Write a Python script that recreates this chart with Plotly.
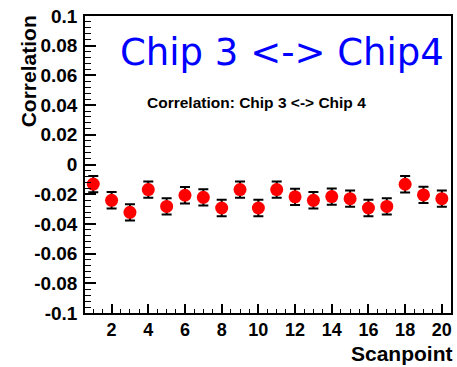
import plotly.graph_objects as go

# Correlation between chip 3 and chip 4 at each scan point
scanpoints = list(range(1, 21))
correlation = [-0.0132, -0.0241, -0.0322, -0.0169, -0.0282, -0.0207, -0.0221, -0.0293,
               -0.0169, -0.0293, -0.0169, -0.0218, -0.0241, -0.0216, -0.0230, -0.0293,
               -0.0282, -0.0133, -0.0205, -0.0230]
errors = [0.0055] * 20

x_ticks = list(range(2, 21, 2))
y_ticks = [0.1, 0.08, 0.06, 0.04, 0.02, 0, -0.02, -0.04, -0.06, -0.08, -0.1]
y_tick_labels = ["0.1", "0.08", "0.06", "0.04", "0.02", "0",
                 "-0.02", "-0.04", "-0.06", "-0.08", "-0.1"]

y_tick_font = dict(family="Liberation Sans", size=19, color="black", weight="bold")
x_tick_font = dict(family="Liberation Sans", size=18, color="black", weight="bold")

fig = go.Figure()
fig.add_trace(go.Scatter(
    x=scanpoints, y=correlation, mode="markers",
    marker=dict(color="#ff0000", size=13, line=dict(width=0)),
    error_y=dict(type="data", array=errors, color="black", thickness=2, width=5),
    showlegend=False,
))

fig.update_layout(
    width=457, height=367,
    margin=dict(l=85, r=4, t=16, b=54),
    paper_bgcolor="white", plot_bgcolor="white",
    xaxis=dict(
        range=[0.55, 20.5], tickvals=x_ticks, ticks="inside", ticklen=9,
        tickwidth=1.5, tickcolor="black", showgrid=False, zeroline=False,
        showline=True, linecolor="black", linewidth=1.5, mirror=True,
        tickfont=x_tick_font,
        minor=dict(dtick=0.5, tick0=0, ticks="inside", ticklen=4, tickwidth=1.2,
                   tickcolor="black", showgrid=False),
    ),
    yaxis=dict(
        range=[-0.1, 0.1], tickvals=y_ticks, ticktext=y_tick_labels,
        ticks="inside", ticklen=11, tickwidth=1.5, tickcolor="black",
        showgrid=False, zeroline=False, showline=True, linecolor="black",
        linewidth=1.5, mirror=True, tickfont=y_tick_font, ticklabelstandoff=2,
        minor=dict(dtick=0.004, tick0=0, ticks="inside", ticklen=6, tickwidth=1.2,
                   tickcolor="black", showgrid=False),
    ),
    annotations=[
        dict(text="Chip 3 <-> Chip4", xref="paper", yref="paper",
             x=0.985, y=0.876, xanchor="right", yanchor="middle", showarrow=False,
             font=dict(family="DejaVu Sans", size=37, color="#0000ff")),
        dict(text="Correlation: Chip 3 <-> Chip 4", xref="paper", yref="paper",
             x=0.468, y=0.71, xanchor="center", yanchor="middle", showarrow=False,
             font=dict(family="Liberation Sans", size=15.5, color="black", weight="bold")),
        dict(text="Correlation", xref="paper", yref="paper", textangle=-90,
             x=-0.155, y=1.01, xanchor="center", yanchor="top", showarrow=False,
             font=dict(family="Liberation Sans", size=21, color="black", weight="bold")),
        dict(text="Scanpoint", xref="paper", yref="paper",
             x=1.01, y=-0.092, xanchor="right", yanchor="top", showarrow=False,
             font=dict(family="Liberation Sans", size=21, color="black", weight="bold")),
    ],
)

fig.write_html("out.html")
